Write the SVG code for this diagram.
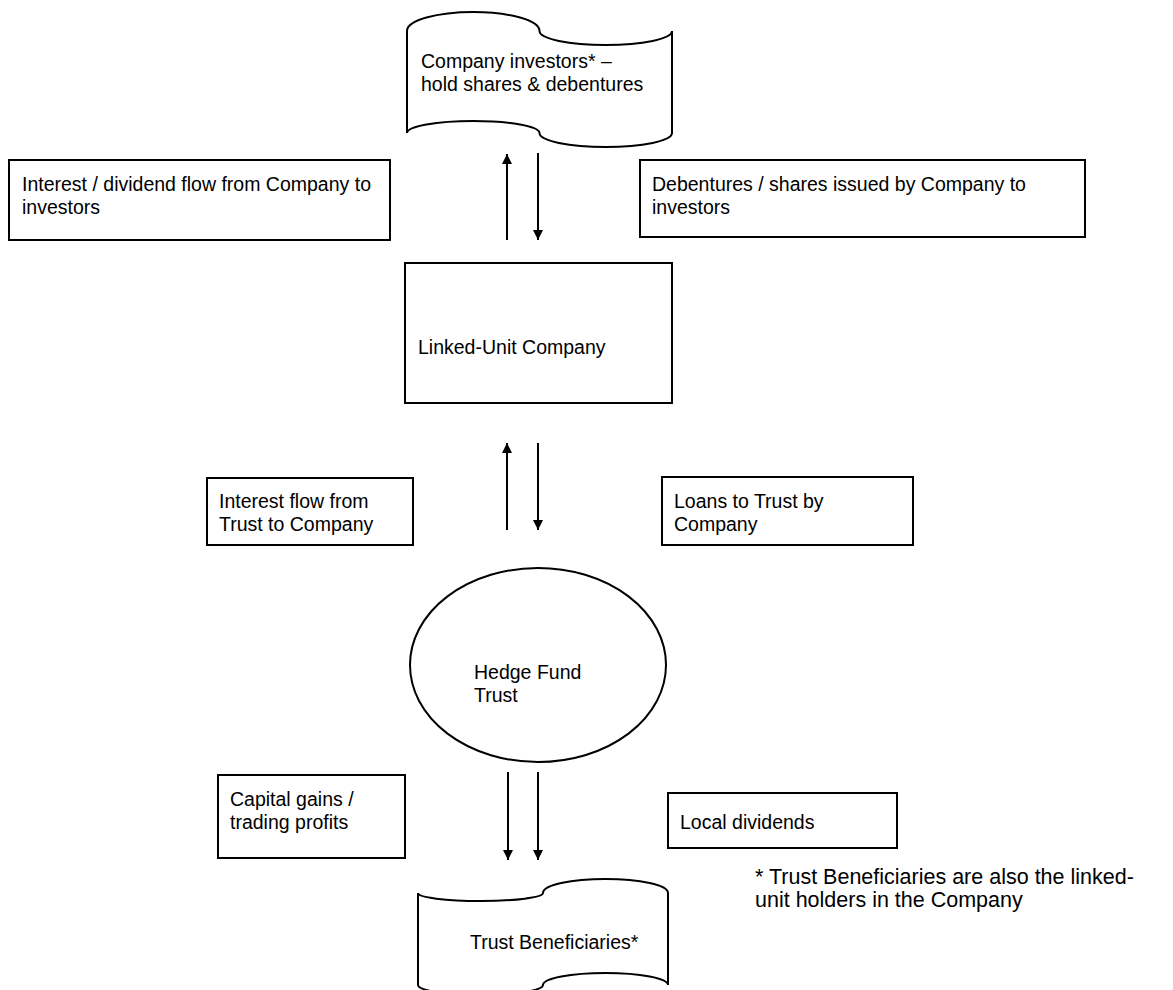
<svg xmlns="http://www.w3.org/2000/svg" width="1173" height="990" viewBox="0 0 1173 990">
<style>
.box{fill:#fff;stroke:#000;stroke-width:2}
.ln{stroke:#000;stroke-width:2;fill:none}
text{font-family:"Liberation Sans",Arial,sans-serif;font-size:19.5px;fill:#000}
.fn{font-size:21.5px}
</style>
<defs>
<marker id="ah" viewBox="0 0 10 10" refX="10" refY="5" markerWidth="10" markerHeight="10" markerUnits="userSpaceOnUse" orient="auto">
<path d="M0,0 L10,5 L0,10 Z" fill="#000"/>
</marker>
</defs>
<rect width="1173" height="990" fill="#fff"/>
<g id="investors">
<path class="box" d="M407,31 A66.25,19 0 0 1 539.5,31 A66.25,14 0 0 0 672,31 L672,133 A66.25,14 0 0 1 539.5,133 A66.25,12 0 0 0 407,133 Z"/>
<text x="421" y="68">Company investors* –</text>
<text x="421" y="91">hold shares &amp; debentures</text>
</g>
<g id="label-interest-dividend">
<rect class="box" x="9" y="160" width="381" height="80"/>
<text x="22" y="191">Interest / dividend flow from Company to</text>
<text x="22" y="214">investors</text>
</g>
<g id="label-debentures">
<rect class="box" x="640" y="160" width="445" height="77"/>
<text x="652" y="191">Debentures / shares issued by Company to</text>
<text x="652" y="214">investors</text>
</g>
<g id="company">
<rect class="box" x="405" y="263" width="267" height="140"/>
<text x="418" y="354">Linked-Unit Company</text>
</g>
<g id="label-interest-trust">
<rect class="box" x="207" y="478" width="206" height="67"/>
<text x="219" y="508">Interest flow from</text>
<text x="219" y="531">Trust to Company</text>
</g>
<g id="label-loans">
<rect class="box" x="662" y="477" width="251" height="68"/>
<text x="674" y="508">Loans to Trust by</text>
<text x="674" y="531">Company</text>
</g>
<g id="trust">
<ellipse class="box" cx="538" cy="665" rx="128" ry="97"/>
<text x="474" y="679">Hedge Fund</text>
<text x="474" y="702">Trust</text>
</g>
<g id="label-capital">
<rect class="box" x="218" y="775" width="187" height="83"/>
<text x="230" y="806">Capital gains /</text>
<text x="230" y="829">trading profits</text>
</g>
<g id="label-local">
<rect class="box" x="668" y="793" width="229" height="55"/>
<text x="680" y="829">Local dividends</text>
</g>
<g id="beneficiaries">
<path class="box" d="M418,893 A62.5,8 0 0 0 543,893 A62.5,14 0 0 1 668,893 L668,985 A62.5,12 0 0 0 543,985 A62.5,10 0 0 1 418,985 Z"/>
<text x="470" y="949">Trust Beneficiaries*</text>
</g>
<g id="footnote">
<text class="fn" x="755" y="884">* Trust Beneficiaries are also the linked-</text>
<text class="fn" x="755" y="907">unit holders in the Company</text>
</g>
<g id="connectors">
<line class="ln" x1="507" y1="240" x2="507" y2="154" marker-end="url(#ah)"/>
<line class="ln" x1="538" y1="153" x2="538" y2="240" marker-end="url(#ah)"/>
<line class="ln" x1="507" y1="530" x2="507" y2="443" marker-end="url(#ah)"/>
<line class="ln" x1="538" y1="443" x2="538" y2="530" marker-end="url(#ah)"/>
<line class="ln" x1="508" y1="772" x2="508" y2="860" marker-end="url(#ah)"/>
<line class="ln" x1="538" y1="772" x2="538" y2="860" marker-end="url(#ah)"/>
</g>
</svg>
